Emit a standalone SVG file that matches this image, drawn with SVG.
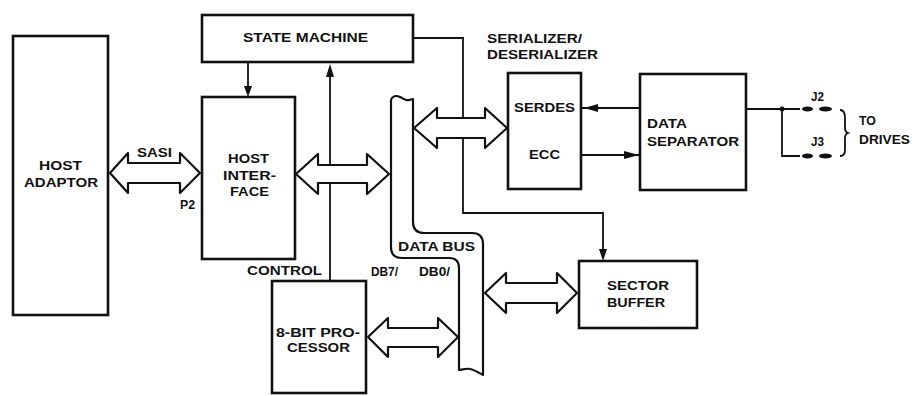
<svg xmlns="http://www.w3.org/2000/svg" width="917" height="396" viewBox="0 0 917 396">
<defs>
<style>
.box{fill:#fff;stroke:#111;stroke-width:2.6}
.bus{fill:#fff;stroke:#111;stroke-width:2.2;stroke-linejoin:round}
.ln{fill:none;stroke:#111;stroke-width:1.8}
.hd{fill:#111}
.t{font-family:"Liberation Sans",Arial,sans-serif;font-weight:bold;font-size:12px;fill:#111}
</style>
</defs>
<rect width="917" height="396" fill="#fff"/>

<g id="connectors">
<path class="ln" d="M248,62 V88"/>
<path class="hd" d="M244,86 L252,86 L248,97 Z"/>
<path class="ln" d="M330,281 V72"/>
<path class="hd" d="M326,77 L334,77 L330,64 Z"/>
<path class="ln" d="M413,38 H463 V213 H603 V250"/>
<path class="hd" d="M599,249 L607,249 L603,261 Z"/>
<path class="ln" d="M581,108 H640" stroke-width="2.6"/>
<path class="hd" d="M598,104 L584,108 L598,112 Z"/>
<path class="ln" d="M581,155 H640" stroke-width="2.6"/>
<path class="hd" d="M624,151 L639,155 L624,159 Z"/>
<path class="ln" d="M746,109 H800 M782,109 V156 H800" stroke-width="2.2"/>
<circle class="hd" cx="782" cy="109" r="2.5"/>
<ellipse class="hd" cx="807.5" cy="109" rx="5.5" ry="2.6"/>
<ellipse class="hd" cx="825.5" cy="109" rx="6.5" ry="2.6"/>
<ellipse class="hd" cx="807.5" cy="156" rx="5.5" ry="2.6"/>
<ellipse class="hd" cx="825.5" cy="156" rx="6.5" ry="2.6"/>
<path class="ln" stroke-width="1.4" d="M840,110 Q845,110 845,118 L845,128 Q845,132 848,133 Q845,134 845,138 L845,150 Q845,156 840,156"/>
</g>

<g id="data-bus">
<path class="bus" d="M391,100 C392,96 396,95 400,97 C404,99 406,101 409,100 L413,99 L413,222 Q413,233 424,233 L472,233 Q483,233 483,244 L483,375 C479,373 475,370 470,369 C466,368 462,370 459,370 L459,268 Q459,258 449,258 L402,258 Q391,258 391,247 Z"/>
<text class="t" x="398" y="251" textLength="77" lengthAdjust="spacingAndGlyphs">DATA BUS</text>
<text class="t" x="371" y="276" textLength="27" lengthAdjust="spacingAndGlyphs">DB7/</text>
<text class="t" x="419" y="276" textLength="31" lengthAdjust="spacingAndGlyphs">DB0/</text>
</g>

<g id="buses">
<path class="bus" d="M110,173 L128,153 L128,163 L180,163 L180,153 L200,173 L180,193 L180,183 L128,183 L128,193 Z"/>
<path class="bus" d="M296,174 L318,154 L318,165 L367,165 L367,154 L389,174 L367,194 L367,183 L318,183 L318,194 Z"/>
<path class="bus" d="M414,128 L437,108 L437,118 L485,118 L485,108 L507,128 L485,148 L485,138 L437,138 L437,148 Z"/>
<path class="bus" d="M368,337 L388,318 L388,328 L438,328 L438,318 L458,337 L438,357 L438,347 L388,347 L388,357 Z"/>
<path class="bus" d="M485,293 L506,273 L506,283 L557,283 L557,273 L577,293 L557,313 L557,303 L506,303 L506,313 Z"/>
<text class="t" x="137" y="157" textLength="35" lengthAdjust="spacingAndGlyphs">SASI</text>
<text class="t" x="180" y="209" textLength="15" lengthAdjust="spacingAndGlyphs">P2</text>
<text class="t" x="247" y="275" textLength="75" lengthAdjust="spacingAndGlyphs">CONTROL</text>
</g>

<g id="host-adaptor">
<rect class="box" x="13" y="36" width="95" height="279"/>
<text class="t" x="39" y="170" textLength="43" lengthAdjust="spacingAndGlyphs">HOST</text>
<text class="t" x="24" y="187" textLength="74" lengthAdjust="spacingAndGlyphs">ADAPTOR</text>
</g>

<g id="state-machine">
<rect class="box" x="202" y="15" width="211" height="47"/>
<text class="t" x="243" y="42" textLength="125" lengthAdjust="spacingAndGlyphs">STATE MACHINE</text>
</g>

<g id="host-interface">
<rect class="box" x="202" y="97" width="93" height="162"/>
<text class="t" x="228" y="163" textLength="41" lengthAdjust="spacingAndGlyphs">HOST</text>
<text class="t" x="223" y="180" textLength="53" lengthAdjust="spacingAndGlyphs">INTER-</text>
<text class="t" x="230" y="196" textLength="39" lengthAdjust="spacingAndGlyphs">FACE</text>
</g>

<g id="processor">
<rect class="box" x="272" y="281" width="94" height="112"/>
<text class="t" x="276" y="337" textLength="84" lengthAdjust="spacingAndGlyphs">8-BIT PRO-</text>
<text class="t" x="287" y="352" textLength="63" lengthAdjust="spacingAndGlyphs">CESSOR</text>
</g>

<g id="serdes">
<rect class="box" x="508" y="73" width="73" height="116"/>
<text class="t" x="514" y="112" textLength="61" lengthAdjust="spacingAndGlyphs">SERDES</text>
<text class="t" x="529" y="159" textLength="31" lengthAdjust="spacingAndGlyphs">ECC</text>
<text class="t" x="487" y="43" textLength="95" lengthAdjust="spacingAndGlyphs">SERIALIZER/</text>
<text class="t" x="487" y="59" textLength="111" lengthAdjust="spacingAndGlyphs">DESERIALIZER</text>
</g>

<g id="data-separator">
<rect class="box" x="640" y="74" width="106" height="116"/>
<text class="t" x="647" y="128" textLength="40" lengthAdjust="spacingAndGlyphs">DATA</text>
<text class="t" x="647" y="146" textLength="92" lengthAdjust="spacingAndGlyphs">SEPARATOR</text>
</g>

<g id="sector-buffer">
<rect class="box" x="579" y="261" width="118" height="67"/>
<text class="t" x="607" y="290" textLength="62" lengthAdjust="spacingAndGlyphs">SECTOR</text>
<text class="t" x="607" y="307" textLength="58" lengthAdjust="spacingAndGlyphs">BUFFER</text>
</g>

<g id="drives">
<text class="t" x="811" y="101" textLength="13" lengthAdjust="spacingAndGlyphs">J2</text>
<text class="t" x="811" y="146" textLength="13" lengthAdjust="spacingAndGlyphs">J3</text>
<text class="t" x="859" y="125" textLength="17" lengthAdjust="spacingAndGlyphs">TO</text>
<text class="t" x="859" y="144" textLength="51" lengthAdjust="spacingAndGlyphs">DRIVES</text>
</g>
</svg>
